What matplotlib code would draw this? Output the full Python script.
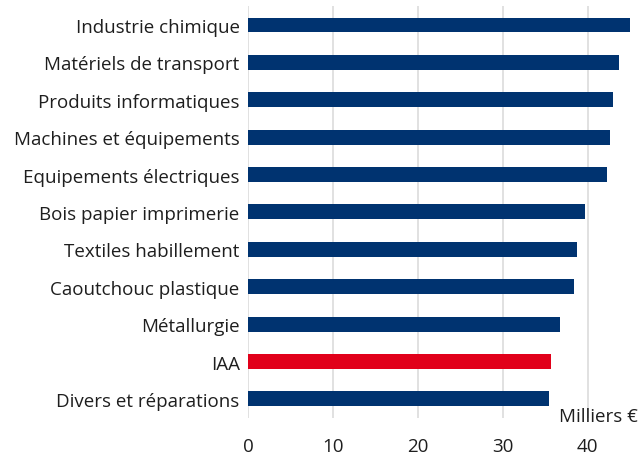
import matplotlib.pyplot as plt
import numpy as np

plt.rcParams['font.family'] = ['Open Sans', 'DejaVu Sans']

secteurs = ['Industrie chimique', 'Matériels de transport', 'Produits informatiques',
            'Machines et équipements', 'Equipements électriques', 'Bois papier imprimerie',
            'Textiles habillement', 'Caoutchouc plastique', 'Métallurgie', 'IAA',
            'Divers et réparations']
valeurs = [45.2, 43.7, 43.0, 42.6, 42.3, 39.7, 38.8, 38.4, 36.7, 35.7, 35.4]

bleu = '#003370'
rouge = '#e1001a'
couleurs = [rouge if s == 'IAA' else bleu for s in secteurs]

fig = plt.figure(figsize=(6.4, 4.56), dpi=100)
ax = fig.add_axes([0.3875, 0.082, 0.597, 0.902])

y = np.arange(len(secteurs))
ax.barh(y, valeurs, height=0.4, color=couleurs, zorder=3)
ax.set_yticks(y)
ax.set_yticklabels(secteurs)
ax.set_ylim(len(secteurs) - 0.5, -0.5)
ax.set_xlim(0, 45)
ax.set_xticks([0, 10, 20, 30, 40])

ax.grid(axis='x', color='#dcdcdc', linewidth=1.2, zorder=0)
for s in ax.spines.values():
    s.set_visible(False)
ax.tick_params(axis='y', length=0, pad=6, labelsize=13.5, labelcolor='#1e1e1e')
ax.tick_params(axis='x', length=0, pad=14, labelsize=13.5, labelcolor='#1e1e1e')

fig.text(0.997, 0.085, 'Milliers €', ha='right', va='center', fontsize=13.5, color='#1e1e1e')

fig.savefig('out.png', dpi=100)
